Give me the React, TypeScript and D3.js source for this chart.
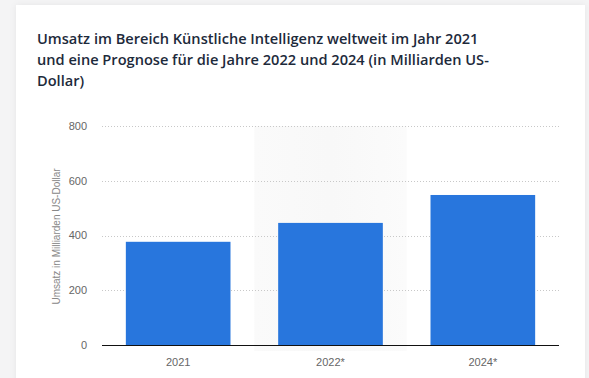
import React from "react";
import * as d3 from "d3";

const categories = ["2021", "2022*", "2024*"];
const values = [377, 446, 548];
const yTicks = [0, 200, 400, 600, 800];
const titleLines = [
  "Umsatz im Bereich Künstliche Intelligenz weltweit im Jahr 2021",
  "und eine Prognose für die Jahre 2022 und 2024 (in Milliarden US-",
  "Dollar)",
];
const yAxisTitle = "Umsatz in Milliarden US-Dollar";
const highlighted = "2022*";

export default function App() {
  const W = 589;
  const H = 378;
  const left = 102;
  const right = 559;
  const top = 126;
  const bottom = 345;

  const x = d3.scaleBand<string>().domain(categories).range([left, right]).paddingInner(0.313).paddingOuter(0.1565);
  const xBg = d3.scaleBand<string>().domain(categories).range([left, right]).padding(0);
  const y = d3.scaleLinear().domain([0, 800]).range([bottom, top]);

  return (
    <div style={{ position: "absolute", left: 0, top: 0, width: W, height: H }}>
      <svg width={W} height={H} style={{ display: "block" }}>
        <defs>
          <filter id="sh" x="-5%" y="-5%" width="110%" height="110%">
            <feDropShadow dx="0" dy="0" stdDeviation="3" floodColor="#000" floodOpacity="0.06" />
          </filter>
          <linearGradient id="hb" x1="0" x2="1" y1="0" y2="0">
            <stop offset="0" stopColor="#fafafa" />
            <stop offset="0.5" stopColor="#f8f8f8" />
            <stop offset="1" stopColor="#fbfbfb" />
          </linearGradient>
        </defs>
        <rect x={0} y={0} width={W} height={H} fill="#f4f4f5" />
        <rect x={16} y={5} width={569} height={H + 10} fill="#ffffff" filter="url(#sh)" />
        <text fontFamily="'Open Sans', sans-serif" fontWeight={600} fontSize={14.6} fill="#1d2a3b">
          {titleLines.map((l, i) => (
            <tspan key={i} x={37} y={44 + i * 21}>{l}</tspan>
          ))}
        </text>
        <rect x={xBg(highlighted)} y={top} width={xBg.bandwidth()} height={bottom - top + 6} fill="url(#hb)" />
        {yTicks.filter((t) => t > 0).map((t) => (
          <line key={t} x1={left} x2={right} y1={Math.round(y(t)) + 0.5} y2={Math.round(y(t)) + 0.5} stroke="#c8c8c8" strokeDasharray="1,2" />
        ))}
        {yTicks.map((t) => (
          <text key={t} x={87} y={y(t)} dy="0.35em" textAnchor="end" fontFamily="'Liberation Sans', Arial, sans-serif" fontSize={11} fill="#666">{t}</text>
        ))}
        {categories.map((c, i) => (
          <rect key={c} x={x(c)} y={y(values[i])} width={x.bandwidth()} height={bottom - y(values[i])} fill="#2876dd" />
        ))}
        <line x1={left} x2={right} y1={bottom + 0.5} y2={bottom + 0.5} stroke="#111" strokeWidth={1.2} />
        {categories.map((c) => (
          <text key={c} x={x(c)! + x.bandwidth() / 2} y={362} dy="0.35em" textAnchor="middle" fontFamily="'Liberation Sans', Arial, sans-serif" fontSize={11} fill="#666">{c}</text>
        ))}
        <text transform={`translate(56,${(top + bottom) / 2 + 1}) rotate(-90)`} textAnchor="middle" dy="0.35em" fontFamily="'Liberation Sans', Arial, sans-serif" fontSize={10} fill="#888">{yAxisTitle}</text>
      </svg>
    </div>
  );
}
